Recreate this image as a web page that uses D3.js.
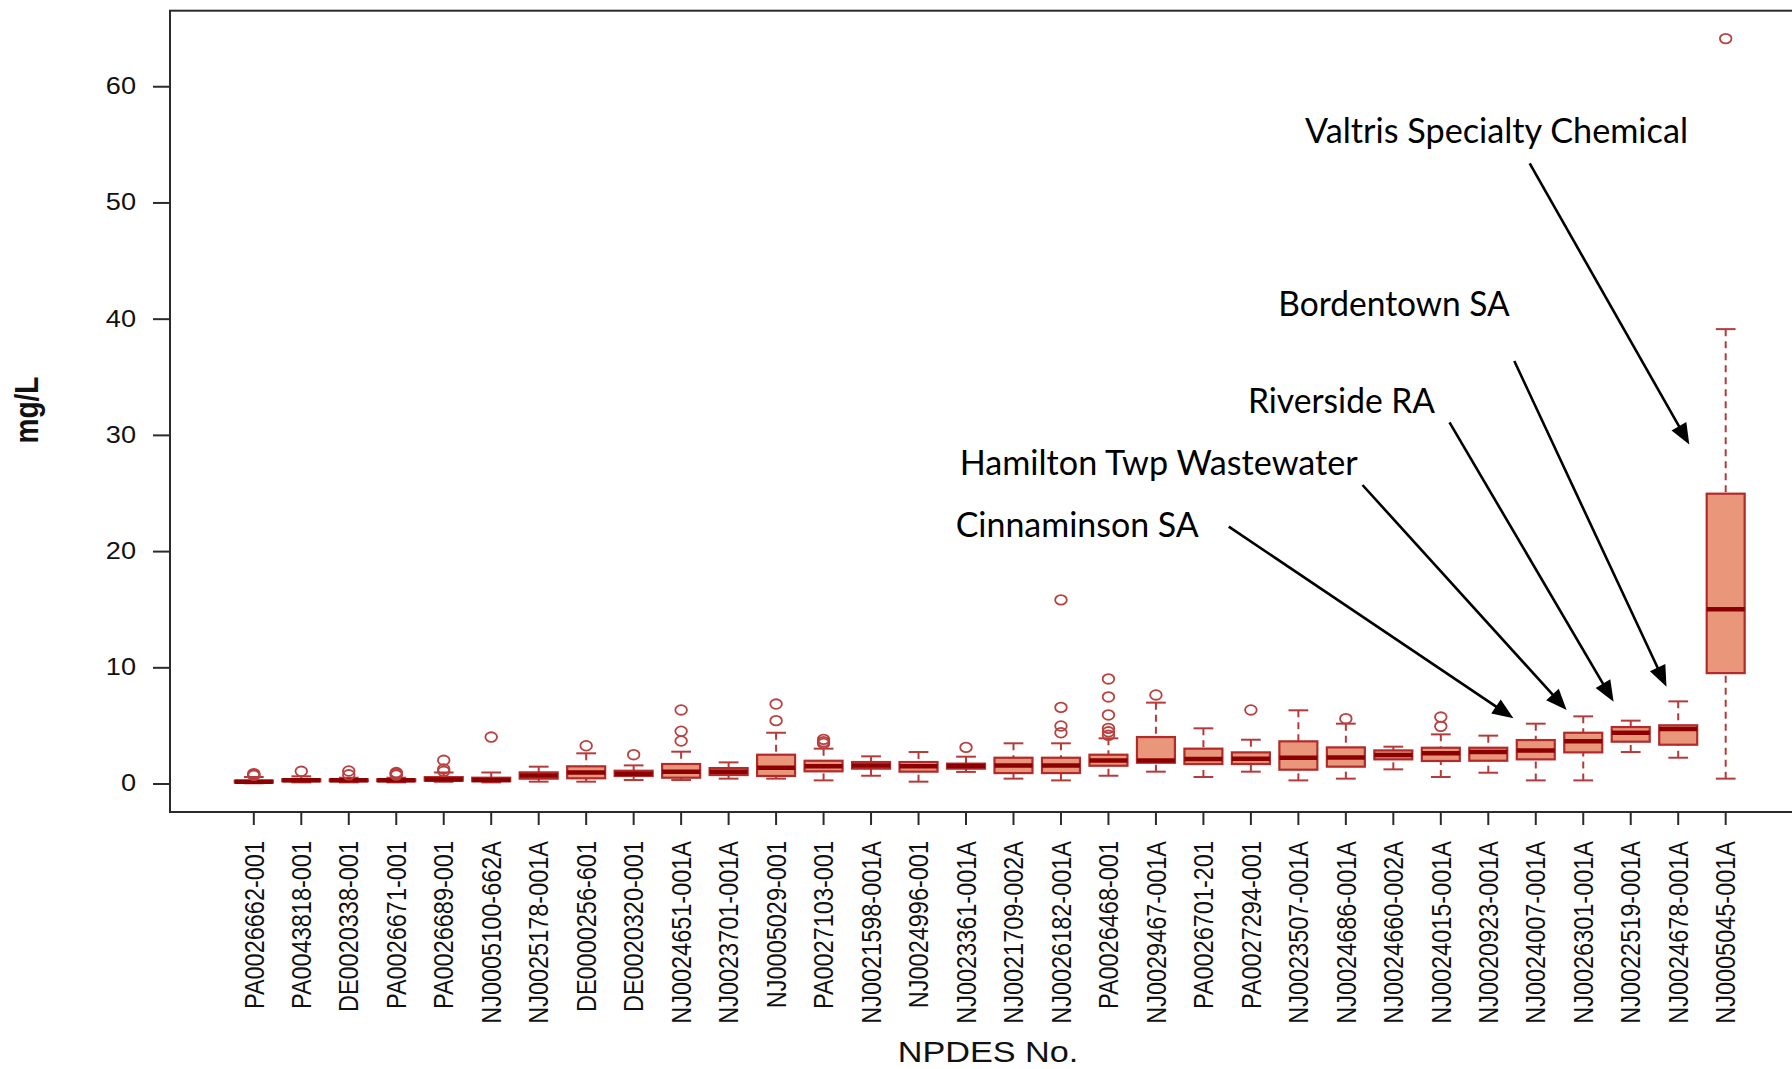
<!DOCTYPE html>
<html>
<head>
<meta charset="utf-8">
<script src="https://cdn.jsdelivr.net/npm/d3@7"></script>
<style>
  html, body { margin: 0; padding: 0; background: #ffffff; }
  svg { display: block; }
</style>
</head>
<body>
<svg id="chart" width="1792" height="1069"></svg>
<script>
// Outfall discharge concentrations by NPDES permit number (mg/L), box-plot summaries
const categories = [
  "PA0026662-001", "PA0043818-001", "DE0020338-001", "PA0026671-001", "PA0026689-001",
  "NJ0005100-662A", "NJ0025178-001A", "DE0000256-601", "DE0020320-001", "NJ0024651-001A",
  "NJ0023701-001A", "NJ0005029-001", "PA0027103-001", "NJ0021598-001A", "NJ0024996-001",
  "NJ0023361-001A", "NJ0021709-002A", "NJ0026182-001A", "PA0026468-001", "NJ0029467-001A",
  "PA0026701-201", "PA0027294-001", "NJ0023507-001A", "NJ0024686-001A", "NJ0024660-002A",
  "NJ0024015-001A", "NJ0020923-001A", "NJ0024007-001A", "NJ0026301-001A", "NJ0022519-001A",
  "NJ0024678-001A", "NJ0005045-001A"
];
const lowerWhisker = [0.02, 0.10, 0.10, 0.10, 0.15, 0.10, 0.16, 0.16, 0.30, 0.30,
                      0.42, 0.42, 0.27, 0.67, 0.16, 1.00, 0.42, 0.27, 0.67, 1.02,
                      0.56, 1.02, 0.27, 0.42, 1.22, 0.56, 0.93, 0.27, 0.27, 2.71,
                      2.22, 0.42];
const lowerHinge   = [0.08, 0.20, 0.20, 0.20, 0.25, 0.20, 0.42, 0.45, 0.65, 0.50,
                      0.73, 0.65, 1.05, 1.28, 1.02, 1.28, 0.90, 0.90, 1.53, 1.79,
                      1.68, 1.68, 1.19, 1.45, 2.08, 1.94, 1.96, 2.08, 2.68, 3.60,
                      3.34, 9.50];
const medians      = [0.15, 0.28, 0.28, 0.28, 0.35, 0.30, 0.70, 0.95, 0.85, 1.02,
                      1.02, 1.36, 1.48, 1.56, 1.48, 1.50, 1.56, 1.56, 1.99, 1.99,
                      2.10, 2.14, 2.22, 2.25, 2.45, 2.60, 2.71, 2.85, 3.63, 4.37,
                      4.69, 15.0];
const upperHinge   = [0.25, 0.36, 0.35, 0.36, 0.55, 0.50, 0.96, 1.48, 1.10, 1.68,
                      1.33, 2.48, 1.96, 1.85, 1.85, 1.71, 2.22, 2.22, 2.48, 4.00,
                      3.00, 2.68, 3.63, 3.11, 2.85, 3.08, 3.08, 3.74, 4.37, 4.86,
                      5.01, 24.94];
const upperWhisker = [0.56, 0.62, 0.50, 0.50, 0.95, 0.95, 1.45, 2.60, 1.56, 2.74,
                      1.82, 4.37, 3.00, 2.34, 2.71, 2.31, 3.46, 3.46, 3.89, 6.96,
                      4.75, 3.77, 6.30, 5.15, 3.17, 4.23, 4.12, 5.15, 5.78, 5.41,
                      7.07, 39.1];
const outliers = [
  [0.85, 0.78, 0.70], [1.05], [1.08, 0.75], [0.95, 0.88, 0.80, 0.72], [2.00, 1.25, 1.05],
  [4.00], [], [3.25], [2.48], [3.66, 4.50, 6.33],
  [], [5.41, 6.84], [3.45, 3.60, 3.80], [], [],
  [3.11], [], [4.37, 4.95, 6.55, 15.8], [4.15, 4.45, 4.75, 5.90, 7.45, 9.00], [7.62],
  [], [6.33], [], [5.58], [],
  [4.92, 5.72], [], [], [], [],
  [], [64.1]
];
const yTicks = [0, 10, 20, 30, 40, 50, 60];
const yTitle = "mg/L";
const xTitle = "NPDES No.";

// Facilities called out with arrows, keyed by permit number
const callouts = [
  { label: "Cinnaminson SA",             target: "NJ0024007-001A" },
  { label: "Hamilton Twp Wastewater",    target: "NJ0026301-001A" },
  { label: "Riverside RA",               target: "NJ0022519-001A" },
  { label: "Bordentown SA",              target: "NJ0024678-001A" },
  { label: "Valtris Specialty Chemical", target: "NJ0005045-001A" }
];

// ---- layout -------------------------------------------------------------
const plot = { left: 170, top: 10.7, right: 1810, bottom: 812 };
const STRETCH = 1.18;                // the plot's lettering is drawn slightly wide
const calloutLayout = {
  "Cinnaminson SA":             { tx: 955.7,  ty: 536.7, tw: 243,   tail: [1228.8, 526.7], tip: [1513.4, 718.3] },
  "Hamilton Twp Wastewater":    { tx: 959.7,  ty: 475.0, tw: 398,   tail: [1362.5, 485.0], tip: [1566.6, 710.0] },
  "Riverside RA":               { tx: 1248.0, ty: 412.7, tw: 187,   tail: [1449.5, 422.3], tip: [1613.6, 701.7] },
  "Bordentown SA":              { tx: 1278.3, ty: 316.0, tw: 231.5, tail: [1514.3, 361.0], tip: [1666.5, 686.7] },
  "Valtris Specialty Chemical": { tx: 1305.0, ty: 143.3, tw: 383,   tail: [1529.7, 163.3], tip: [1689.3, 444.5] }
};

const COL = {
  fill: "#E9967A",
  border: "#B22A2A",
  whisker: "#B53A3A",
  median: "#8B0000",
  outlier: "#B8403F",
  axis: "#2b2b2b",
  text: "#111111"
};

const svg = d3.select("#chart");
svg.append("rect").attr("width", 1792).attr("height", 1069).attr("fill", "#ffffff");

const x = d3.scaleBand()
  .domain(categories)
  .range([169.3, 1810.2])
  .paddingInner(0.2)
  .paddingOuter(1.38);

const y = d3.scaleLinear()
  .domain([-2.45, 66.5])
  .range([plot.bottom, plot.top]);

const bw = x.bandwidth();
const capHalf = bw * 0.26;

// ---- axes -----------------------------------------------------------------
const yAxis = svg.append("g")
  .attr("transform", `translate(${plot.left},0)`)
  .call(d3.axisLeft(y).tickValues(yTicks).tickSize(17).tickPadding(17).tickFormat(d3.format("d")));
yAxis.select(".domain").remove();
yAxis.selectAll(".tick line").attr("stroke", COL.axis).attr("stroke-width", 2);
yAxis.selectAll(".tick text")
  .attr("x", 0)
  .attr("transform", `translate(-34,0) scale(${STRETCH},1)`)
  .attr("fill", COL.text)
  .style("font-family", "'Liberation Sans', Arial, sans-serif")
  .style("font-size", "23px");

const xAxis = svg.append("g")
  .attr("transform", `translate(0,${plot.bottom})`)
  .call(d3.axisBottom(x).tickSize(13).tickPadding(0));
xAxis.select(".domain").remove();
xAxis.selectAll(".tick line").attr("stroke", COL.axis).attr("stroke-width", 2);
xAxis.selectAll(".tick text")
  .attr("x", 0).attr("y", 0).attr("dy", null)
  .attr("transform", `translate(0,29) scale(${STRETCH},1) rotate(-90)`)
  .attr("text-anchor", "end")
  .attr("dominant-baseline", "central")
  .attr("fill", COL.text)
  .style("font-family", "'Liberation Sans', Arial, sans-serif")
  .style("font-size", "23.5px");

// axis titles
svg.append("text")
  .attr("transform", `translate(38,410) scale(${STRETCH},1) rotate(-90)`)
  .attr("text-anchor", "middle")
  .attr("fill", COL.text)
  .style("font-family", "'Liberation Sans', Arial, sans-serif")
  .style("font-size", "28px")
  .style("font-weight", "bold")
  .text(yTitle);

svg.append("text")
  .attr("transform", `translate(988,1062) scale(${STRETCH},1)`)
  .attr("text-anchor", "middle")
  .attr("fill", COL.text)
  .style("font-family", "'Liberation Sans', Arial, sans-serif")
  .style("font-size", "29px")
  .text(xTitle);

// ---- boxes ----------------------------------------------------------------
const boxes = categories.map((c, i) => ({
  cat: c, lw: lowerWhisker[i], q1: lowerHinge[i], med: medians[i],
  q3: upperHinge[i], uw: upperWhisker[i], out: outliers[i]
}));

const g = svg.append("g").attr("class", "boxes");
const box = g.selectAll("g.box").data(boxes).join("g")
  .attr("class", "box")
  .attr("transform", d => `translate(${x(d.cat) + bw / 2},0)`);

// whiskers, drawn from the whisker end toward the hinge
box.append("line")
  .attr("x1", 0).attr("x2", 0)
  .attr("y1", d => y(d.uw)).attr("y2", d => y(d.q3))
  .attr("stroke", COL.whisker).attr("stroke-width", 2).attr("stroke-dasharray", "7,5");
box.append("line")
  .attr("x1", 0).attr("x2", 0)
  .attr("y1", d => y(d.lw)).attr("y2", d => y(d.q1))
  .attr("stroke", COL.whisker).attr("stroke-width", 2).attr("stroke-dasharray", "7,5");
// staples
box.append("line")
  .attr("x1", -capHalf).attr("x2", capHalf)
  .attr("y1", d => y(d.uw)).attr("y2", d => y(d.uw))
  .attr("stroke", COL.whisker).attr("stroke-width", 2);
box.append("line")
  .attr("x1", -capHalf).attr("x2", capHalf)
  .attr("y1", d => y(d.lw)).attr("y2", d => y(d.lw))
  .attr("stroke", COL.whisker).attr("stroke-width", 2);
// interquartile box
box.append("rect")
  .attr("x", -bw / 2).attr("width", bw)
  .attr("y", d => y(d.q3))
  .attr("height", d => Math.max(0.5, y(d.q1) - y(d.q3)))
  .attr("fill", COL.fill)
  .attr("stroke", COL.border).attr("stroke-width", 2.2);
// median
box.append("line")
  .attr("x1", -bw / 2).attr("x2", bw / 2)
  .attr("y1", d => y(d.med)).attr("y2", d => y(d.med))
  .attr("stroke", COL.median).attr("stroke-width", 4.5);
// outliers
box.selectAll("ellipse").data(d => d.out).join("ellipse")
  .attr("cx", 0).attr("cy", v => y(v))
  .attr("rx", 5.8).attr("ry", 4.8)
  .attr("fill", "none")
  .attr("stroke", COL.outlier).attr("stroke-width", 1.8);

// plot frame
svg.append("rect")
  .attr("x", plot.left).attr("y", plot.top)
  .attr("width", plot.right - plot.left).attr("height", plot.bottom - plot.top)
  .attr("fill", "none").attr("stroke", COL.axis).attr("stroke-width", 2);

// ---- callouts -------------------------------------------------------------
const notes = svg.append("g").attr("class", "callouts");
callouts.forEach(c => {
  const L = calloutLayout[c.label];
  const [x0, y0] = L.tail, [x1, y1] = L.tip;
  const ang = Math.atan2(y1 - y0, x1 - x0);
  const headLen = 21, headHalf = 8.5;
  const bx = x1 - headLen * Math.cos(ang), by = y1 - headLen * Math.sin(ang);
  notes.append("line")
    .attr("x1", x0).attr("y1", y0).attr("x2", bx + 2 * Math.cos(ang)).attr("y2", by + 2 * Math.sin(ang))
    .attr("stroke", "#000").attr("stroke-width", 2.6);
  const px = -Math.sin(ang), py = Math.cos(ang);
  notes.append("polygon")
    .attr("points", [
      [x1, y1],
      [bx + headHalf * px, by + headHalf * py],
      [bx - headHalf * px, by - headHalf * py]
    ].map(p => p.join(",")).join(" "))
    .attr("fill", "#000");
  notes.append("text")
    .attr("x", L.tx).attr("y", L.ty)
    .attr("textLength", L.tw).attr("lengthAdjust", "spacingAndGlyphs")
    .attr("fill", "#000")
    .style("font-family", "Lato, 'Open Sans', sans-serif")
    .style("font-size", "34px")
    .text(c.label);
});
</script>
</body>
</html>
